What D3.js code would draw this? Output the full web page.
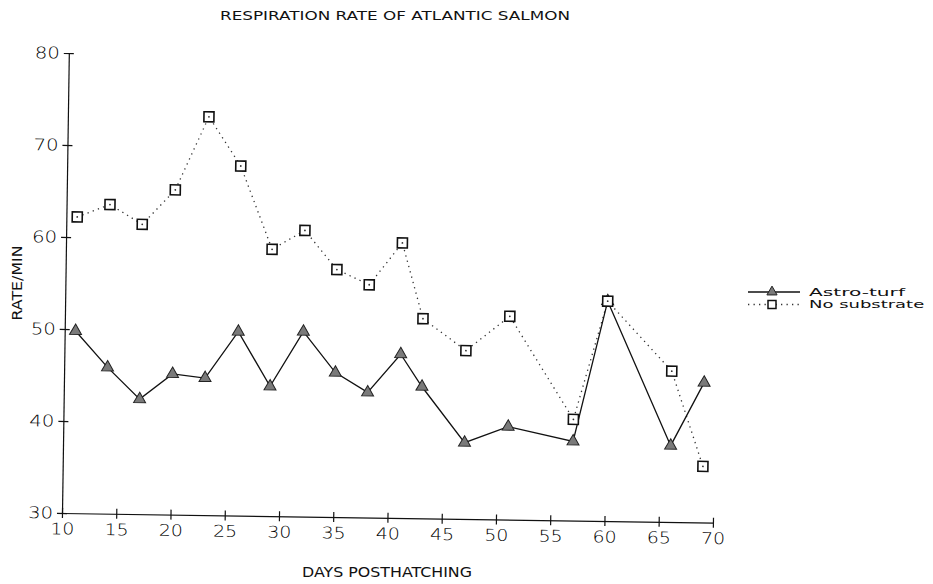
<!DOCTYPE html>
<html>
<head>
<meta charset="utf-8">
<script src="https://cdn.jsdelivr.net/npm/d3@7"></script>
<style>
  body { margin: 0; background: #fff; }
  text { font-family: "DejaVu Sans", sans-serif; font-weight: 200; fill: #111; }
</style>
</head>
<body>
<svg></svg>
<script>
let width = 933,
  height = 584;

// values
const days = [11, 14, 17, 20, 23, 26, 29, 32, 35, 38, 41, 43, 47, 51, 57, 60, 66, 69];
const astroTurf = [49.8, 45.9, 42.5, 45.3, 44.9, 50.0, 44.1, 50.1, 45.7, 43.6, 47.8, 44.3, 38.3, 40.1, 38.6, 53.9, 38.3, 45.2];
const noSubstrate = [62.2, 63.6, 61.5, 65.3, 73.3, 68.0, 59.0, 61.1, 56.9, 55.3, 59.9, 51.7, 48.3, 52.1, 41.0, 53.9, 46.4, 36.1];
const xTicks = [10, 15, 20, 25, 30, 35, 40, 45, 50, 55, 60, 65, 70];
const yTicks = [30, 40, 50, 60, 70, 80];
const seriesNames = ["Astro-turf", "No substrate"];

let svg = d3.select("svg").attr("width", width).attr("height", height);

let x = d3.scaleLinear().domain([10, 70]).range([62, 713]);
let y = d3.scaleLinear().domain([30, 80]).range([513, 53]);

// the scanned original is slightly skewed
let plot = svg.append("g").attr("transform", "rotate(0.85,62,513)");

// x axis
let xAxis = plot.append("g")
  .attr("transform", "translate(0," + y(30) + ")")
  .call(d3.axisBottom(x).tickValues(xTicks).tickSize(5).tickSizeOuter(0));
xAxis.selectAll(".tick line").attr("y1", -5);
xAxis.selectAll(".tick text")
  .attr("y", 10)
  .style("font-size", "16px")
  .attr("textLength", 24)
  .attr("lengthAdjust", "spacingAndGlyphs");

// y axis
let yAxis = plot.append("g")
  .attr("transform", "translate(" + x(10) + ",0)")
  .call(d3.axisLeft(y).tickValues(yTicks).tickSize(5).tickPadding(4).tickSizeOuter(0));
yAxis.selectAll(".tick line").attr("x1", 5);
yAxis.selectAll(".tick text")
  .style("font-size", "16px")
  .attr("textLength", 25)
  .attr("lengthAdjust", "spacingAndGlyphs");

plot.selectAll(".domain, .tick line").attr("stroke", "#111").attr("stroke-width", 1.2);
plot.selectAll(".tick text").style("fill", "#000").style("font-weight", 300);

let line = d3.line().x((d) => x(d[0])).y((d) => y(d[1]));
let astroPts = days.map((d, i) => [d, astroTurf[i]]);
let nonePts = days.map((d, i) => [d, noSubstrate[i]]);

plot.append("path")
  .attr("d", line(nonePts))
  .attr("fill", "none")
  .attr("stroke", "#333")
  .attr("stroke-width", 1.3)
  .attr("stroke-dasharray", "1.3,4.2");

plot.append("path")
  .attr("d", line(astroPts))
  .attr("fill", "none")
  .attr("stroke", "#111")
  .attr("stroke-width", 1.3);

let tri = d3.symbol(d3.symbolTriangle, 62);

plot.append("g")
  .selectAll("path")
  .data(astroPts)
  .enter()
  .append("path")
  .attr("d", tri)
  .attr("transform", (d) => "translate(" + x(d[0]) + "," + y(d[1]) + ")")
  .attr("fill", "#7a7a7a")
  .attr("stroke", "#222")
  .attr("stroke-width", 1);

let sq = plot.append("g")
  .selectAll("g")
  .data(nonePts)
  .enter()
  .append("g")
  .attr("transform", (d) => "translate(" + x(d[0]) + "," + y(d[1]) + ")");
sq.append("rect")
  .attr("x", -5).attr("y", -5).attr("width", 10).attr("height", 10)
  .attr("fill", "#fff").attr("stroke", "#111").attr("stroke-width", 1.6);
sq.append("circle").attr("r", 0.9).attr("fill", "#333");

// titles
svg.append("text")
  .attr("x", 395).attr("y", 20)
  .attr("text-anchor", "middle")
  .style("font-size", "12px")
  .style("font-weight", 400)
  .attr("textLength", 350)
  .attr("lengthAdjust", "spacingAndGlyphs")
  .text("RESPIRATION RATE OF ATLANTIC SALMON");

svg.append("text")
  .attr("x", 387).attr("y", 577)
  .attr("text-anchor", "middle")
  .style("font-size", "14px")
  .style("font-weight", 400)
  .attr("textLength", 170)
  .attr("lengthAdjust", "spacingAndGlyphs")
  .text("DAYS POSTHATCHING");

svg.append("text")
  .attr("transform", "translate(22,283) rotate(-90)")
  .attr("text-anchor", "middle")
  .style("font-size", "13.5px")
  .style("font-weight", 400)
  .attr("textLength", 75)
  .attr("lengthAdjust", "spacingAndGlyphs")
  .text("RATE/MIN");

// legend
let legend = svg.append("g");
legend.append("line")
  .attr("x1", 748).attr("x2", 800).attr("y1", 292).attr("y2", 292)
  .attr("stroke", "#111").attr("stroke-width", 1.3);
legend.append("path")
  .attr("d", d3.symbol(d3.symbolTriangle, 45))
  .attr("transform", "translate(772,292)")
  .attr("fill", "#7a7a7a").attr("stroke", "#222");
legend.append("line")
  .attr("x1", 748).attr("x2", 800).attr("y1", 304.5).attr("y2", 304.5)
  .attr("stroke", "#333").attr("stroke-width", 1.3)
  .attr("stroke-dasharray", "1.3,4.2");
legend.append("rect")
  .attr("x", 768).attr("y", 300.5).attr("width", 8).attr("height", 8)
  .attr("fill", "#fff").attr("stroke", "#111").attr("stroke-width", 1.5);

legend.selectAll("text")
  .data(seriesNames)
  .enter()
  .append("text")
  .attr("x", 809)
  .attr("y", (d, i) => 295.5 + i * 12.5)
  .style("font-size", "11px")
  .style("font-weight", 400)
  .attr("textLength", (d) => d.length * 9.6)
  .attr("lengthAdjust", "spacingAndGlyphs")
  .text((d) => d);
</script>
</body>
</html>
